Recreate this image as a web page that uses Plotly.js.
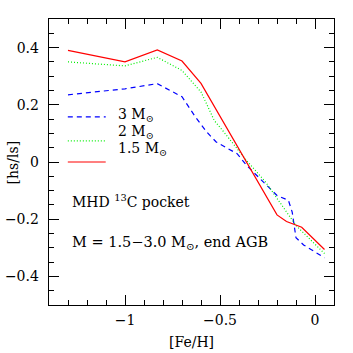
<!DOCTYPE html>
<html>
<head>
<meta charset="utf-8">
<script src="https://cdn.plot.ly/plotly-3.0.1.min.js"></script>
<style>
  html, body { margin: 0; padding: 0; background: #fff; }
  #chart { width: 353px; height: 353px; }
</style>
</head>
<body>
<div id="chart"></div>
<script>
// [Fe/H] grid and [hs/ls] for each initial mass (MHD 13C pocket, end of AGB)
const fehM15 = [-1.3, -1.0, -0.83, -0.7, -0.6, -0.2, -0.15, -0.1, -0.07, 0.05];
const hslsM15 = [0.39, 0.35, 0.392, 0.353, 0.275, -0.185, -0.208, -0.22, -0.228, -0.306];

const fehM2 = [-1.3, -1.0, -0.83, -0.7, -0.6, -0.53, -0.48, -0.36, -0.26, -0.1, 0.05];
const hslsM2 = [0.35, 0.336, 0.366, 0.32, 0.245, 0.145, 0.105, 0.005, -0.07, -0.222, -0.32];

const fehM3 = [-1.3, -1.0, -0.83, -0.7, -0.63, -0.57, -0.52, -0.41, -0.36, -0.29, -0.2, -0.14, -0.12, -0.1, -0.06, 0.05];
const hslsM3 = [0.235, 0.256, 0.274, 0.228, 0.158, 0.105, 0.07, 0.029, -0.012, -0.058, -0.117, -0.134, -0.175, -0.265, -0.29, -0.335];

const massLabels = ['3 M<sub>⊙</sub>', '2 M<sub>⊙</sub>', '1.5 M<sub>⊙</sub>'];

const serif = 'DejaVu Serif, serif';

let traces = [
  { x: fehM3, y: hslsM3, mode: 'lines', line: { color: '#0000ff', width: 1.2, dash: '5px,4px' } },
  { x: fehM2, y: hslsM2, mode: 'lines', line: { color: '#00ee00', width: 1.2, dash: '1px,2px' } },
  { x: fehM15, y: hslsM15, mode: 'lines', line: { color: '#ff0000', width: 1.2 } }
];

// hand-drawn legend, like the original: short line samples with labels beside
let legendLineY = [0.658, 0.574, 0.5];
let legendTextY = [0.664, 0.606, 0.547];
let legendStyles = traces.map(t => t.line);

let shapes = legendStyles.map((ls, i) => ({
  type: 'line', xref: 'paper', yref: 'paper',
  x0: 0.066, x1: 0.199, y0: legendLineY[i], y1: legendLineY[i],
  line: { color: ls.color, width: ls.width, dash: ls.dash || 'solid' }
}));

let annotations = massLabels.map((txt, i) => ({
  xref: 'paper', yref: 'paper', x: 0.235, y: legendTextY[i],
  xanchor: 'left', yanchor: 'middle', showarrow: false, text: txt
}));

annotations.push(
  { xref: 'paper', yref: 'paper', x: 0.074, y: 0.364, xanchor: 'left', yanchor: 'middle',
    showarrow: false, text: 'MHD <sup>13</sup>C pocket' },
  { xref: 'paper', yref: 'paper', x: 0.074, y: 0.217, xanchor: 'left', yanchor: 'middle',
    showarrow: false, text: 'M = 1.5−3.0 M<sub>⊙</sub>, end AGB', font: { size: 14.5 } },
  { xref: 'paper', yref: 'paper', x: 0.5, y: -0.13, xanchor: 'center', yanchor: 'middle',
    showarrow: false, text: '[Fe/H]' },
  { xref: 'paper', yref: 'paper', x: -0.125, y: 0.5, xanchor: 'center', yanchor: 'middle',
    showarrow: false, textangle: -90, text: '[hs/ls]' }
);

let axisCommon = {
  showgrid: false, zeroline: false, showline: true, linecolor: '#000', linewidth: 1.3,
  mirror: 'allticks', ticks: 'inside', ticklen: 10, tickwidth: 1, tickcolor: '#000',
  tickfont: { family: serif, size: 14, color: '#000' }
};

let layout = {
  width: 353, height: 353,
  margin: { l: 49, r: 19, t: 19, b: 48 },
  paper_bgcolor: '#fff', plot_bgcolor: '#fff',
  showlegend: false,
  font: { family: serif, size: 14, color: '#000' },
  xaxis: Object.assign({}, axisCommon, {
    range: [-1.4, 0.1], tick0: -1, dtick: 0.5, ticklabelstandoff: 2,
    minor: { dtick: 0.1, ticklen: 5, tickcolor: '#000', ticks: 'inside' }
  }),
  yaxis: Object.assign({}, axisCommon, {
    range: [-0.5, 0.5], tick0: 0, dtick: 0.2, ticklabelstandoff: 6,
    minor: { dtick: 0.05, ticklen: 5, tickcolor: '#000', ticks: 'inside' }
  }),
  shapes: shapes,
  annotations: annotations
};

Plotly.newPlot('chart', traces, layout, { displayModeBar: false, staticPlot: true });
</script>
</body>
</html>
